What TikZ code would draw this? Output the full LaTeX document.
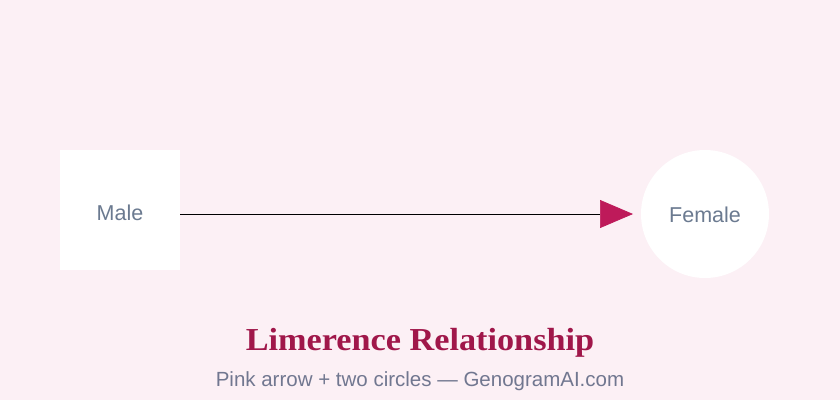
\documentclass[tikz,border=0pt]{standalone}
\usepackage{fontspec}
\setmainfont{Liberation Sans}
\newfontfamily\titlefont{Liberation Serif}
\usetikzlibrary{arrows.meta}
\definecolor{bgpink}{HTML}{FCF0F5}
\definecolor{labelgray}{HTML}{6B7A90}
\definecolor{titlered}{HTML}{A0174A}
\definecolor{subgray}{HTML}{717790}
\definecolor{arrowpink}{HTML}{BE1A5A}
\begin{document}
\begin{tikzpicture}[x=1pt,y=-1pt,
  person/.style={fill=white,draw=none,inner sep=0pt},
  plabel/.style={text=labelgray,font=\fontsize{21.5}{24}\selectfont,anchor=base,inner sep=0pt},
  limarrow/.style={draw=black,line width=0.7pt,-{Triangle[length=33pt,width=28pt,color=arrowpink]}}]
\fill[bgpink] (0,0) rectangle (840,400);
\useasboundingbox (0,0) rectangle (840,400);
\node[person,rectangle,minimum width=120pt,minimum height=120pt] (male) at (120,210) {};
\node[person,circle,minimum size=128pt] (female) at (705,214) {};
\node[plabel] (malelabel) at (120,220) {Male};
\node[plabel] (femalelabel) at (705,222) {Female};
\coordinate (mright) at (180,214);
\coordinate (tip) at (633,214);
\draw[limarrow] (mright) -- (tip);
\node[font=\titlefont\bfseries\fontsize{32}{34}\selectfont,text=titlered,anchor=base,inner sep=0pt] (title) at (420,350) {\scalebox{1.07}[1]{Limerence Relationship}};
\node[font=\fontsize{20.5}{22}\selectfont,text=subgray,anchor=base,inner sep=0pt] (sub) at (420,386) {Pink arrow + two circles — GenogramAI.com};
\end{tikzpicture}
\end{document}
